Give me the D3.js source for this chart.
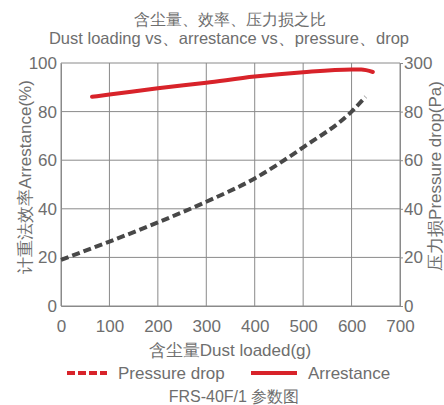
<!DOCTYPE html>
<html>
<head>
<meta charset="utf-8">
<script src="https://cdn.jsdelivr.net/npm/d3@7"></script>
<style>
	body { margin: 0; background: #fff; }
	svg { display: block; }
	text { font-family: "Liberation Sans", Arial, sans-serif; fill: #6e6e6e; }
</style>
</head>
<body>
<div id="content"></div>
<script>
// Chart data
var xTicks = [0, 100, 200, 300, 400, 500, 600, 700];
var leftTicks = [0, 20, 40, 60, 80, 100];
var rightTickLabels = ["0", "20", "40", "60", "80", "300"];

var arrestanceX = [64, 100, 200, 300, 400, 500, 600, 620, 644];
var arrestanceY = [86.1, 87.0, 89.6, 91.9, 94.4, 96.2, 97.3, 97.3, 96.3];

var pressureX = [0, 100, 200, 300, 400, 500, 600, 629];
var pressureY = [19.0, 26.5, 34.4, 42.9, 52.5, 65.3, 80.0, 86.1];

var titleZh = "含尘量、效率、压力损之比";
var titleEn = "Dust loading vs、arrestance vs、pressure、drop";
var xLabel = "含尘量Dust loaded(g)";
var leftLabel = "计重法效率Arrestance(%)";
var rightLabel = "压力损Pressure drop(Pa)";
var footer = "FRS-40F/1  参数图";

function main() {
	var width = 444, height = 405;
	var margin = { left: 61, right: 44, top: 63, bottom: 99 };

	var svg = d3.select("#content").append("svg")
		.attr("width", width)
		.attr("height", height);

	var x = d3.scaleLinear().domain([0, 700]).range([margin.left, width - margin.right]);
	var y = d3.scaleLinear().domain([0, 100]).range([height - margin.bottom, margin.top]);

	// grid
	var grid = svg.append("g").attr("stroke", "#8a8a8a").attr("stroke-width", 1);
	grid.selectAll(".vx").data(xTicks).enter().append("line")
		.attr("x1", function (d) { return x(d); })
		.attr("x2", function (d) { return x(d); })
		.attr("y1", y(0)).attr("y2", y(100));
	grid.selectAll(".hy").data(leftTicks).enter().append("line")
		.attr("x1", x(0)).attr("x2", x(700))
		.attr("y1", function (d) { return y(d); })
		.attr("y2", function (d) { return y(d); });

	// axes
	var xAxis = svg.append("g")
		.attr("transform", "translate(0," + y(0) + ")")
		.call(d3.axisBottom(x).tickValues(xTicks).tickSize(0).tickPadding(14));
	var leftAxis = svg.append("g")
		.attr("transform", "translate(" + x(0) + ",0)")
		.call(d3.axisLeft(y).tickValues(leftTicks).tickSize(0).tickPadding(4));
	var rightAxis = svg.append("g")
		.attr("transform", "translate(" + x(700) + ",0)")
		.call(d3.axisRight(y).tickValues(leftTicks).tickSize(3).tickPadding(1)
			.tickFormat(function (d, i) { return rightTickLabels[i]; }));

	[xAxis, leftAxis, rightAxis].forEach(function (a) {
		a.select(".domain").attr("stroke", "#8a8a8a");
		a.selectAll("line").attr("stroke", "#8a8a8a");
		a.selectAll("text")
			.attr("fill", "#6e6e6e")
			.style("font-size", "17px")
			.style("font-family", "'Liberation Sans', Arial, sans-serif");
	});

	// lines
	var line = d3.line()
		.x(function (d) { return x(d[0]); })
		.y(function (d) { return y(d[1]); })
		.curve(d3.curveMonotoneX);

	var pressure = pressureX.map(function (v, i) { return [v, pressureY[i]]; });
	var arrestance = arrestanceX.map(function (v, i) { return [v, arrestanceY[i]]; });

	svg.append("path")
		.attr("d", line(pressure))
		.attr("fill", "none")
		.attr("stroke", "#484848")
		.attr("stroke-width", 4)
		.attr("stroke-dasharray", "8,4");

	svg.append("path")
		.attr("d", line(arrestance))
		.attr("fill", "none")
		.attr("stroke", "#d8232a")
		.attr("stroke-width", 4)
		.attr("stroke-linecap", "round");

	// titles
	svg.append("text").attr("x", 230).attr("y", 25)
		.attr("text-anchor", "middle").style("font-size", "15.5px")
		.text(titleZh);
	svg.append("text").attr("x", 229).attr("y", 44)
		.attr("text-anchor", "middle").style("font-size", "16.5px")
		.text(titleEn);

	svg.append("text").attr("x", 230).attr("y", 356)
		.attr("text-anchor", "middle").style("font-size", "17px")
		.text(xLabel);

	svg.append("text")
		.attr("transform", "translate(31,177) rotate(-90)")
		.attr("text-anchor", "middle").style("font-size", "17px")
		.text(leftLabel);
	svg.append("text")
		.attr("transform", "translate(441,176) rotate(-90)")
		.attr("text-anchor", "middle").style("font-size", "17px")
		.text(rightLabel);

	// legend
	var lg = svg.append("g");
	lg.append("line").attr("x1", 67).attr("x2", 107).attr("y1", 373).attr("y2", 373)
		.attr("stroke", "#d8232a").attr("stroke-width", 4).attr("stroke-dasharray", "8,3");
	lg.append("text").attr("x", 118).attr("y", 379).style("font-size", "17px").text("Pressure drop");
	lg.append("line").attr("x1", 251).attr("x2", 297).attr("y1", 373).attr("y2", 373)
		.attr("stroke", "#d8232a").attr("stroke-width", 4);
	lg.append("text").attr("x", 308).attr("y", 379).style("font-size", "17px").text("Arrestance");

	svg.append("text").attr("x", 234).attr("y", 402)
		.attr("text-anchor", "middle").style("font-size", "16px")
		.text(footer);
}

main();
</script>
</body>
</html>
